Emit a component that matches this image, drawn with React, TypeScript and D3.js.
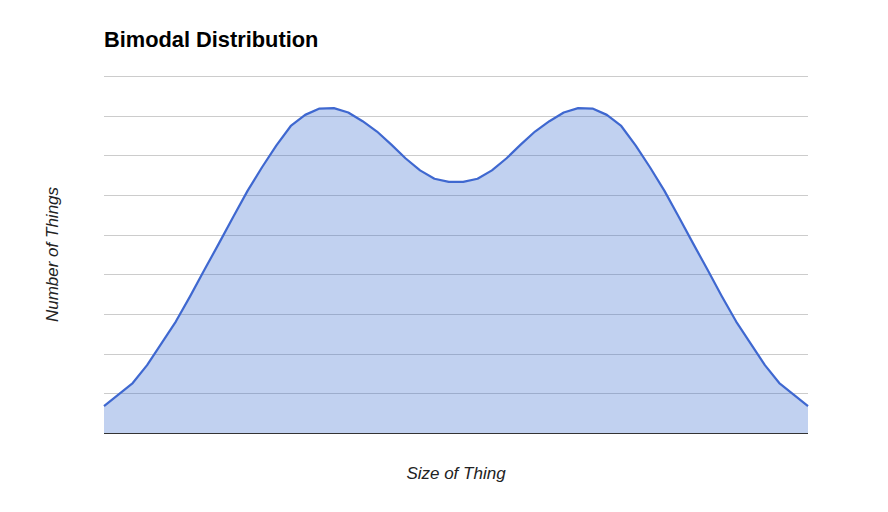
import React from "react";
import * as d3 from "d3";

const TITLE = "Bimodal Distribution";
const X_TITLE = "Size of Thing";
const Y_TITLE = "Number of Things";

// 50 evenly spaced samples of the distribution (no axis tick labels shown)
const sampleIndex: number[] = Array.from({ length: 50 }, (_, i) => i);
const counts: number[] = [
  6.8, 9.7, 12.6, 17.1, 22.6, 28.1, 34.5, 41.2, 47.8, 54.5,
  61.1, 67.0, 72.5, 77.4, 80.2, 81.8, 81.9, 80.8, 78.6, 76.0,
  72.7, 69.2, 66.2, 64.1, 63.3, 63.3, 64.1, 66.2, 69.2, 72.7,
  76.0, 78.6, 80.8, 81.9, 81.8, 80.2, 77.4, 72.5, 67.0, 61.1,
  54.5, 47.8, 41.2, 34.5, 28.1, 22.6, 17.1, 12.6, 9.7, 6.8,
];
const yTicks: number[] = [0, 10, 20, 30, 40, 50, 60, 70, 80, 90];

export default function App() {
  const W = 888, H = 512;
  const left = 104, right = 808, top = 76, bottom = 433;
  const x = d3.scaleLinear().domain([0, sampleIndex.length - 1]).range([left, right]);
  const y = d3.scaleLinear().domain([0, 90]).range([bottom, top]);
  const pts: [number, number][] = sampleIndex.map((i) => [i, counts[i]]);
  const area = d3.area<[number, number]>().x((d) => x(d[0])).y0(y(0)).y1((d) => y(d[1]));
  const line = d3.line<[number, number]>().x((d) => x(d[0])).y((d) => y(d[1]));
  const font = "Arial, 'Liberation Sans', sans-serif";
  return (
    <div style={{ position: "fixed", left: 0, top: 0 }}>
      <svg width={W} height={H} style={{ display: "block", background: "#fff" }}>
        <rect width={W} height={H} fill="#fff" />
        {yTicks.slice(1).map((t) => (
          <line key={t} x1={left} x2={right} y1={Math.round(y(t)) + 0.5} y2={Math.round(y(t)) + 0.5} stroke="#cccccc" strokeWidth={1} />
        ))}
        <path d={area(pts) || ""} fill="#3366cc" fillOpacity={0.3} />
        <line x1={left} x2={right} y1={Math.round(y(0)) + 0.5} y2={Math.round(y(0)) + 0.5} stroke="#333333" strokeWidth={1} />
        <path d={line(pts) || ""} fill="none" stroke="#3f68d0" strokeWidth={2.2} strokeLinejoin="round" />
        <text x={104} y={47} fontFamily={font} fontWeight="bold" fontSize={21.8} fill="#000">{TITLE}</text>
        <text x={(left + right) / 2} y={479} textAnchor="middle" fontFamily={font} fontStyle="italic" fontSize={17} fill="#222">{X_TITLE}</text>
        <text transform={`translate(58,${(top + bottom) / 2}) rotate(-90)`} textAnchor="middle" fontFamily={font} fontStyle="italic" fontSize={17} fill="#222">{Y_TITLE}</text>
      </svg>
    </div>
  );
}
